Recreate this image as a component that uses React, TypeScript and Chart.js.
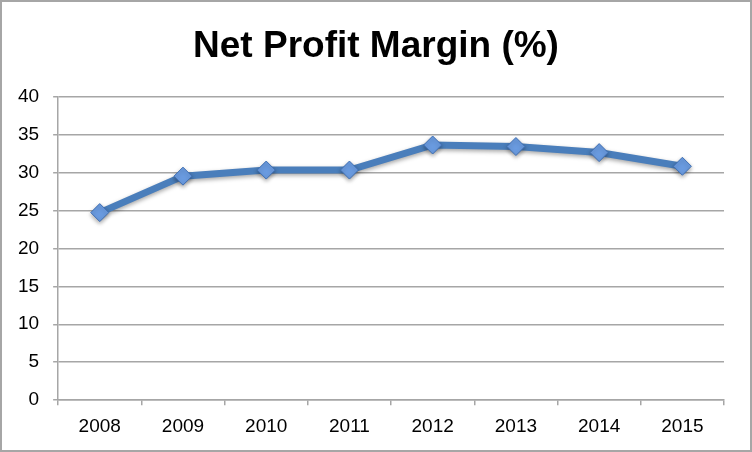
import React, { useEffect, useRef } from "react";
import { Chart, registerables } from "chart.js";

Chart.register(...registerables);

const categories = ["2008", "2009", "2010", "2011", "2012", "2013", "2014", "2015"];
const netProfitMargin = [24.7, 29.5, 30.3, 30.3, 33.6, 33.4, 32.6, 30.8];
const titleText = "Net Profit Margin (%)";

const FONT = "'Liberation Sans', Arial, sans-serif";

const borderPlugin = {
  id: "outerBorder",
  afterDraw(chart: any) {
    const ctx = chart.ctx;
    ctx.save();
    ctx.strokeStyle = "#a6a6a6";
    ctx.lineWidth = 2;
    ctx.strokeRect(1, 1, chart.width - 2, chart.height - 2);
    ctx.restore();
  },
};

// Draws the title centred on the whole picture (Chart.js' own title box keeps the space).
const centredTitlePlugin = {
  id: "centredTitle",
  afterDraw(chart: any) {
    const ctx = chart.ctx;
    ctx.save();
    ctx.fillStyle = "#000";
    ctx.font = `bold 37px ${FONT}`;
    ctx.textAlign = "center";
    ctx.textBaseline = "middle";
    ctx.fillText(titleText, chart.width / 2, 47);
    ctx.restore();
  },
};

const shadowPlugin = {
  id: "lineShadow",
  beforeDatasetDraw(chart: any) {
    const ctx = chart.ctx;
    ctx.save();
    ctx.shadowColor = "rgba(0,0,0,0.35)";
    ctx.shadowBlur = 4;
    ctx.shadowOffsetX = 0;
    ctx.shadowOffsetY = 2;
  },
  afterDatasetDraw(chart: any) {
    chart.ctx.restore();
  },
};

export default function App() {
  const ref = useRef<HTMLCanvasElement | null>(null);
  useEffect(() => {
    document.body.style.margin = "0";
    const canvas = ref.current!;
    const chart = new Chart(canvas, {
      type: "line",
      data: {
        labels: categories,
        datasets: [
          {
            data: netProfitMargin,
            borderColor: "#4a7ebb",
            borderWidth: 7,
            pointStyle: "rectRot",
            pointRadius: 9,
            pointBackgroundColor: "#6a9be0",
            pointBorderColor: "#3f6fb3",
            pointBorderWidth: 1,
            tension: 0,
          },
        ],
      },
      plugins: [shadowPlugin, borderPlugin, centredTitlePlugin],
      options: {
        responsive: false,
        animation: false,
        devicePixelRatio: 1,
        layout: { padding: { left: 4, right: 28, top: 0, bottom: 4 } },
        plugins: {
          legend: { display: false },
          tooltip: { enabled: false },
          title: {
            display: true,
            text: titleText,
            color: "rgba(0,0,0,0)",
            font: { family: FONT, size: 37, weight: "bold" },
            padding: { top: 25, bottom: 27 },
          },
        },
        scales: {
          x: {
            offset: true,
            grid: {
              display: true,
              offset: true,
              drawOnChartArea: false,
              drawTicks: true,
              tickLength: 5,
              color: "#a6a6a6",
              lineWidth: 1.5,
            },
            border: { display: true, color: "#a6a6a6", width: 1.5 },
            ticks: {
              color: "#000",
              font: { family: FONT, size: 19 },
              padding: 10,
              maxRotation: 0,
            },
          },
          y: {
            min: 0,
            max: 40,
            grid: {
              color: "#a6a6a6",
              lineWidth: 1.5,
              drawTicks: true,
              tickLength: 5,
            },
            border: { display: true, color: "#a6a6a6", width: 1.5 },
            ticks: {
              stepSize: 5,
              color: "#000",
              font: { family: FONT, size: 19 },
              padding: 14,
            },
          },
        },
      },
    });
    return () => chart.destroy();
  }, []);
  return <canvas ref={ref} width={752} height={452} style={{ display: "block", width: 752, height: 452 }} />;
}
